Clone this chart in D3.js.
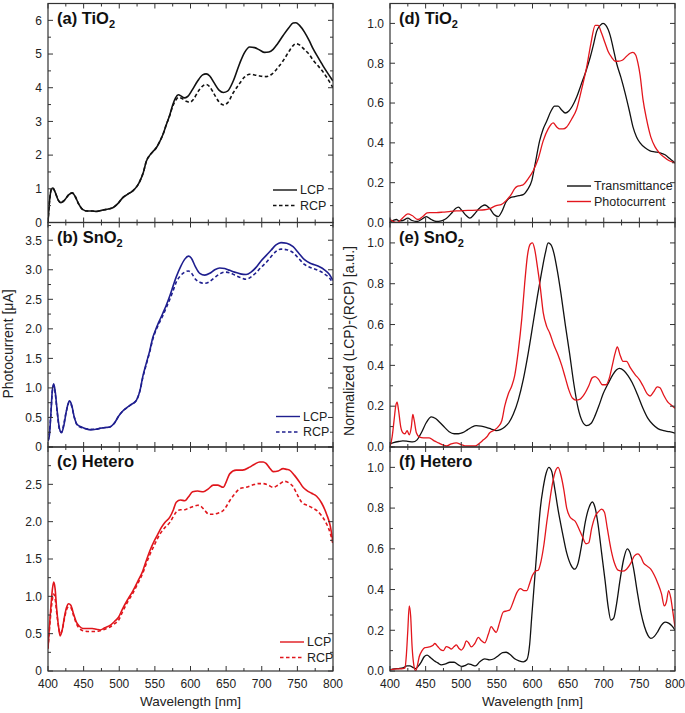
<!DOCTYPE html>
<html><head><meta charset="utf-8">
<script src="https://cdn.jsdelivr.net/npm/d3@7"></script>
<style>
html,body{margin:0;padding:0;background:#fff;}
svg text{font-family:"Liberation Sans",Arial,sans-serif;}
</style></head><body>
<svg id="chart" width="685" height="713"></svg>
<script>
// ---------- DATA (wavelength nm, value) ----------
const aLCP=[[400,0],[402,0.6],[405,1.0],[407,1.02],[410,0.9],[414,0.68],[418,0.59],[423,0.66],[429,0.82],[434,0.88],[438,0.78],[443,0.55],[449,0.38],[455,0.34],[462,0.34],[468,0.33],[475,0.36],[482,0.39],[491,0.44],[498,0.56],[505,0.74],[512,0.84],[519,0.94],[525,1.08],[529,1.23],[534,1.5],[538,1.82],[543,2.0],[547,2.1],[552,2.22],[557,2.41],[562,2.65],[566,2.9],[571,3.2],[575,3.49],[579,3.7],[583,3.79],[587,3.75],[591,3.7],[596,3.74],[602,3.92],[610,4.2],[617,4.38],[622,4.41],[627,4.35],[633,4.15],[640,3.93],[646,3.86],[652,3.9],[660,4.2],[669,4.72],[676,5.05],[683,5.21],[690,5.19],[697,5.12],[704,5.05],[710,5.06],[716,5.14],[722,5.3],[730,5.55],[738,5.78],[744,5.92],[748,5.93],[753,5.85],[760,5.65],[767,5.38],[772,5.16],[779,4.9],[786,4.65],[793,4.42],[800,4.2]];
const aRCP=[[400,0],[402,0.6],[405,1.0],[407,1.02],[410,0.9],[414,0.68],[418,0.59],[423,0.66],[429,0.82],[434,0.88],[438,0.78],[443,0.55],[449,0.38],[455,0.34],[462,0.34],[468,0.33],[475,0.36],[482,0.39],[491,0.44],[498,0.56],[505,0.74],[512,0.84],[519,0.94],[525,1.08],[529,1.23],[534,1.5],[538,1.82],[543,2.0],[547,2.1],[552,2.22],[557,2.41],[562,2.65],[566,2.9],[571,3.18],[575,3.45],[579,3.62],[583,3.71],[588,3.68],[594,3.6],[599,3.57],[604,3.65],[611,3.9],[617,4.05],[622,4.1],[627,4.03],[633,3.82],[640,3.58],[646,3.49],[652,3.55],[660,3.85],[669,4.13],[676,4.32],[683,4.40],[690,4.38],[697,4.35],[706,4.33],[714,4.4],[722,4.58],[730,4.8],[738,5.07],[744,5.25],[748,5.31],[753,5.27],[760,5.13],[767,4.98],[772,4.82],[779,4.65],[786,4.47],[793,4.25],[800,4.0]];
const bLCP=[[400,0.1],[402,0.2],[404,0.55],[406,0.95],[408,1.07],[410,0.95],[413,0.6],[416,0.32],[419,0.24],[422,0.35],[426,0.62],[430,0.78],[433,0.72],[437,0.5],[441,0.38],[447,0.34],[453,0.31],[460,0.29],[467,0.3],[474,0.32],[481,0.33],[487,0.34],[493,0.4],[499,0.52],[505,0.61],[510,0.66],[517,0.72],[524,0.79],[529,0.95],[533,1.19],[538,1.42],[543,1.64],[547,1.85],[550,1.95],[555,2.1],[561,2.26],[566,2.4],[571,2.56],[576,2.74],[580,2.88],[586,3.05],[592,3.18],[597,3.23],[601,3.2],[607,3.05],[613,2.94],[620,2.91],[627,2.94],[634,3.0],[641,3.03],[648,3.02],[655,2.99],[662,2.96],[670,2.93],[678,2.92],[685,2.96],[692,3.04],[699,3.15],[706,3.24],[713,3.33],[720,3.42],[727,3.46],[735,3.45],[744,3.39],[752,3.28],[760,3.17],[768,3.11],[775,3.08],[781,3.05],[788,3.0],[795,2.92],[800,2.82]];
const bRCP=[[400,0.1],[402,0.25],[404,0.55],[406,0.93],[408,1.04],[410,0.92],[413,0.58],[416,0.3],[419,0.25],[422,0.38],[426,0.62],[430,0.76],[433,0.7],[437,0.5],[441,0.37],[447,0.33],[453,0.31],[460,0.3],[467,0.3],[474,0.32],[481,0.33],[487,0.34],[493,0.4],[499,0.52],[505,0.61],[510,0.66],[517,0.72],[524,0.79],[529,0.95],[533,1.17],[538,1.4],[543,1.62],[547,1.82],[550,1.93],[555,2.07],[561,2.22],[566,2.36],[571,2.5],[576,2.66],[580,2.79],[586,2.9],[592,2.96],[597,2.98],[601,2.95],[607,2.84],[613,2.79],[620,2.77],[627,2.8],[634,2.87],[641,2.93],[648,2.96],[655,2.95],[662,2.91],[670,2.87],[678,2.84],[685,2.88],[692,2.95],[699,3.04],[706,3.12],[713,3.22],[720,3.31],[727,3.35],[735,3.34],[744,3.29],[752,3.19],[760,3.09],[768,3.04],[775,3.01],[781,2.98],[788,2.93],[795,2.86],[800,2.77]];
const cLCP=[[400,0.3],[402,0.6],[404,0.85],[406,1.08],[408,1.19],[410,1.1],[412,0.85],[415,0.58],[417,0.47],[420,0.55],[423,0.72],[426,0.85],[429,0.9],[432,0.88],[436,0.76],[440,0.65],[444,0.6],[449,0.57],[456,0.57],[462,0.57],[468,0.56],[473,0.55],[480,0.58],[487,0.61],[493,0.66],[499,0.72],[505,0.84],[512,0.96],[519,1.07],[526,1.2],[533,1.34],[538,1.48],[543,1.61],[549,1.74],[554,1.83],[559,1.92],[564,1.99],[571,2.06],[576,2.16],[580,2.26],[586,2.29],[592,2.28],[597,2.33],[603,2.4],[610,2.41],[618,2.4],[625,2.44],[632,2.49],[638,2.49],[646,2.46],[650,2.53],[655,2.64],[664,2.69],[673,2.69],[683,2.73],[690,2.77],[697,2.80],[702,2.80],[706,2.78],[711,2.72],[716,2.67],[723,2.68],[730,2.71],[735,2.70],[739,2.69],[746,2.62],[753,2.53],[758,2.46],[763,2.42],[770,2.38],[777,2.34],[784,2.25],[791,2.1],[796,1.95],[800,1.72]];
const cRCP=[[400,0.3],[402,0.55],[404,0.78],[406,0.95],[408,1.03],[410,0.97],[412,0.8],[415,0.58],[417,0.5],[420,0.55],[423,0.7],[426,0.82],[429,0.86],[432,0.85],[436,0.74],[440,0.63],[444,0.57],[449,0.54],[456,0.53],[462,0.53],[468,0.53],[473,0.54],[480,0.56],[487,0.59],[493,0.63],[499,0.68],[505,0.8],[512,0.93],[519,1.04],[526,1.17],[533,1.31],[538,1.44],[543,1.56],[549,1.68],[554,1.78],[559,1.86],[564,1.92],[571,1.99],[576,2.07],[580,2.13],[586,2.16],[592,2.16],[597,2.18],[603,2.20],[610,2.22],[614,2.21],[620,2.15],[626,2.10],[632,2.10],[640,2.12],[646,2.15],[650,2.2],[655,2.28],[662,2.37],[669,2.44],[678,2.46],[687,2.49],[695,2.51],[702,2.51],[709,2.49],[716,2.46],[723,2.49],[732,2.54],[738,2.52],[744,2.47],[750,2.36],[756,2.26],[763,2.22],[770,2.19],[777,2.15],[784,2.08],[791,1.97],[796,1.85],[800,1.7]];
const dTrans=[[400,0.005],[404,0.01],[409,0.015],[413,0.008],[418,0.01],[425,0.022],[431,0.01],[438,0.005],[444,0.015],[451,0.03],[458,0.015],[465,0.005],[472,0.008],[479,0.02],[486,0.045],[492,0.07],[496,0.077],[501,0.06],[507,0.035],[512,0.022],[518,0.04],[525,0.07],[533,0.088],[540,0.07],[546,0.04],[552,0.03],[557,0.055],[563,0.105],[569,0.125],[575,0.13],[581,0.135],[587,0.14],[593,0.165],[599,0.21],[604,0.3],[610,0.41],[615,0.47],[620,0.51],[626,0.56],[631,0.585],[636,0.585],[641,0.565],[646,0.55],[651,0.56],[656,0.585],[662,0.63],[668,0.69],[675,0.76],[681,0.83],[686,0.9],[690,0.96],[695,0.99],[699,1.0],[703,0.99],[709,0.94],[713,0.88],[718,0.8],[724,0.73],[730,0.65],[736,0.56],[741,0.48],[746,0.43],[751,0.4],[758,0.375],[765,0.36],[772,0.355],[779,0.35],[786,0.34],[793,0.32],[800,0.3]];
const dPhoto=[[400,0.015],[405,0.005],[410,0.0],[417,0.02],[425,0.043],[431,0.035],[439,0.015],[446,0.03],[452,0.048],[456,0.05],[465,0.05],[474,0.052],[483,0.055],[493,0.058],[503,0.06],[512,0.061],[522,0.062],[533,0.064],[540,0.07],[549,0.085],[556,0.09],[563,0.11],[570,0.14],[575,0.17],[578,0.18],[583,0.185],[587,0.19],[594,0.22],[601,0.26],[608,0.32],[615,0.41],[622,0.47],[629,0.5],[634,0.48],[638,0.47],[643,0.47],[648,0.48],[655,0.52],[662,0.57],[669,0.67],[676,0.78],[682,0.9],[688,0.99],[692,0.99],[697,0.95],[702,0.9],[706,0.86],[711,0.83],[716,0.81],[720,0.81],[726,0.815],[732,0.835],[737,0.85],[741,0.855],[745,0.84],[748,0.8],[751,0.74],[755,0.62],[760,0.52],[766,0.43],[772,0.38],[778,0.35],[784,0.33],[792,0.31],[800,0.3]];
const eTrans=[[400,0.017],[405,0.022],[412,0.027],[418,0.03],[425,0.028],[432,0.025],[438,0.035],[444,0.07],[451,0.12],[458,0.148],[464,0.14],[470,0.12],[477,0.095],[483,0.075],[490,0.065],[496,0.065],[502,0.07],[509,0.085],[515,0.098],[521,0.105],[528,0.102],[535,0.096],[542,0.088],[549,0.08],[555,0.085],[561,0.098],[567,0.12],[573,0.16],[580,0.23],[587,0.33],[594,0.46],[601,0.61],[607,0.74],[613,0.86],[618,0.95],[622,1.0],[626,0.99],[630,0.95],[635,0.86],[640,0.75],[646,0.6],[652,0.46],[658,0.31],[664,0.19],[670,0.125],[676,0.105],[682,0.115],[688,0.155],[694,0.21],[699,0.26],[706,0.31],[713,0.356],[718,0.378],[722,0.385],[728,0.375],[734,0.35],[740,0.315],[747,0.26],[755,0.19],[762,0.14],[769,0.11],[776,0.09],[784,0.08],[792,0.075],[800,0.068]];
const ePhoto=[[400,0.0],[403,0.05],[406,0.14],[408,0.2],[410,0.22],[412,0.18],[415,0.1],[418,0.07],[421,0.065],[424,0.08],[427,0.06],[430,0.1],[432,0.16],[434,0.13],[437,0.07],[441,0.05],[447,0.045],[455,0.045],[462,0.03],[468,0.02],[474,0.01],[479,0.005],[486,0.015],[493,0.02],[500,0.012],[507,0.005],[514,0.005],[520,0.005],[526,0.02],[531,0.035],[536,0.05],[540,0.07],[545,0.08],[552,0.1],[557,0.13],[561,0.2],[566,0.26],[571,0.3],[575,0.35],[580,0.47],[585,0.63],[589,0.8],[593,0.94],[597,0.995],[600,1.0],[603,0.97],[607,0.88],[611,0.78],[615,0.66],[620,0.59],[624,0.56],[630,0.5],[636,0.45],[641,0.4],[646,0.34],[651,0.28],[656,0.24],[661,0.23],[667,0.235],[673,0.26],[679,0.3],[684,0.34],[688,0.345],[693,0.33],[698,0.305],[703,0.305],[708,0.34],[712,0.4],[716,0.46],[719,0.49],[723,0.45],[727,0.42],[732,0.42],[737,0.39],[744,0.355],[750,0.33],[755,0.3],[761,0.26],[765,0.25],[770,0.27],[775,0.295],[779,0.29],[784,0.255],[790,0.22],[795,0.205],[800,0.19]];
const fTrans=[[400,0.005],[406,0.01],[412,0.012],[418,0.015],[424,0.025],[428,0.025],[432,0.018],[436,0.012],[440,0.025],[444,0.045],[448,0.07],[452,0.078],[457,0.065],[462,0.05],[467,0.04],[472,0.03],[478,0.035],[484,0.043],[490,0.043],[496,0.03],[501,0.022],[506,0.028],[510,0.035],[515,0.03],[520,0.025],[526,0.045],[533,0.06],[540,0.055],[546,0.06],[552,0.075],[558,0.09],[563,0.092],[569,0.08],[575,0.06],[581,0.05],[587,0.045],[592,0.055],[596,0.13],[599,0.27],[603,0.45],[607,0.63],[611,0.8],[615,0.9],[619,0.97],[623,1.0],[627,0.98],[631,0.9],[636,0.79],[642,0.68],[648,0.58],[654,0.52],[659,0.5],[664,0.53],[669,0.62],[674,0.73],[679,0.8],[684,0.83],[688,0.8],[692,0.72],[697,0.58],[702,0.44],[706,0.32],[710,0.25],[714,0.26],[718,0.33],[723,0.45],[728,0.55],[733,0.6],[737,0.58],[742,0.5],[747,0.39],[752,0.29],[757,0.22],[762,0.175],[766,0.16],[771,0.17],[776,0.195],[781,0.225],[786,0.24],[791,0.235],[796,0.22],[800,0.2]];
const fPhoto=[[400,0.005],[410,0.01],[418,0.012],[421,0.015],[423,0.08],[425,0.2],[427,0.32],[429,0.27],[431,0.12],[433,0.04],[436,0.0],[438,0.02],[441,0.07],[445,0.1],[449,0.115],[455,0.118],[460,0.125],[463,0.135],[467,0.12],[471,0.105],[475,0.1],[479,0.12],[483,0.115],[486,0.108],[490,0.12],[493,0.128],[497,0.11],[500,0.103],[504,0.12],[507,0.148],[510,0.14],[514,0.118],[519,0.135],[524,0.165],[528,0.15],[533,0.138],[538,0.18],[542,0.218],[546,0.2],[549,0.19],[554,0.24],[559,0.29],[564,0.295],[568,0.3],[573,0.34],[578,0.385],[583,0.405],[588,0.395],[592,0.395],[596,0.43],[600,0.47],[604,0.49],[608,0.495],[612,0.54],[616,0.62],[620,0.73],[624,0.83],[628,0.92],[632,0.98],[636,1.0],[640,0.96],[644,0.89],[648,0.8],[652,0.76],[656,0.745],[660,0.735],[665,0.7],[670,0.66],[675,0.625],[679,0.63],[683,0.7],[688,0.76],[692,0.78],[697,0.795],[701,0.78],[705,0.7],[710,0.6],[715,0.53],[720,0.495],[726,0.49],[732,0.5],[738,0.53],[743,0.565],[748,0.575],[752,0.56],[756,0.53],[761,0.515],[766,0.5],[771,0.47],[776,0.43],[781,0.38],[785,0.32],[788,0.34],[791,0.395],[794,0.36],[797,0.29],[800,0.215]];

const xTicks=[400,450,500,550,600,650,700,750,800];
const panelLabels=[["(a) TiO","2"],["(b) SnO","2"],["(c) Hetero",""],["(d) TiO","2"],["(e) SnO","2"],["(f) Hetero",""]];
const leftYMax=[6.5,3.8,3.0];
const leftYMajor=[1,0.5,0.5];
const leftColors=["#111111","#1f1f8f","#e0161c"];
const leftSeries=[[aLCP,aRCP],[bLCP,bRCP],[cLCP,cRCP]];
const rightSeries=[[dTrans,dPhoto],[eTrans,ePhoto],[fTrans,fPhoto]];
const rightColors=["#111111","#e3161d"];
const legendLeft=["LCP","RCP"];
const legendRight=["Transmittance","Photocurrent"];

// ---------- LAYOUT ----------
const svg=d3.select("#chart");
const rowEdges=[3.5,222.5,447,671];
const cols=[{x0:48,x1:333},{x0:390,x1:675}];
const axisColor="#333";

function drawPanel(ci,ri,series,colors,dashes,ymax,ymajor,labelIdx,yfmt,legend,legendPos,showX){
  const c=cols[ci];
  const top=rowEdges[ri], bot=rowEdges[ri+1];
  const x=d3.scaleLinear().domain([400,800]).range([c.x0,c.x1]);
  const y=d3.scaleLinear().domain([0,ymax]).range([bot,top]);
  const g=svg.append("g");
  const clipId="clip"+ci+ri;
  svg.append("clipPath").attr("id",clipId).append("rect")
    .attr("x",c.x0).attr("y",top).attr("width",c.x1-c.x0).attr("height",bot-top);
  const line=d3.line().x(d=>x(d[0])).y(d=>y(d[1])).curve(d3.curveMonotoneX);
  series.forEach((s,i)=>{
    g.append("path").datum(s).attr("d",line).attr("fill","none")
      .attr("stroke",colors[i]).attr("stroke-width",ci===0?1.6:1.3)
      .attr("stroke-dasharray",dashes[i]).attr("clip-path","url(#"+clipId+")");
  });
  const xMinor=d3.range(400,801,25);
  const yMajorV=d3.range(0,ymax+1e-9,ymajor);
  const yMinorV=d3.range(0,ymax+1e-9,ymajor/2);
  const tg=g.append("g").attr("stroke",axisColor).attr("stroke-width",1);
  xMinor.forEach(v=>{
    const L=(v%50===0)?5:3;
    tg.append("line").attr("x1",x(v)).attr("x2",x(v)).attr("y1",bot).attr("y2",bot-L);
    tg.append("line").attr("x1",x(v)).attr("x2",x(v)).attr("y1",top).attr("y2",top+L);
  });
  yMinorV.forEach(v=>{
    const isMaj=yMajorV.some(m=>Math.abs(m-v)<1e-6);
    const L=isMaj?5:3;
    tg.append("line").attr("x1",c.x0).attr("x2",c.x0+L).attr("y1",y(v)).attr("y2",y(v));
    tg.append("line").attr("x1",c.x1).attr("x2",c.x1-L).attr("y1",y(v)).attr("y2",y(v));
  });
  g.append("rect").attr("x",c.x0).attr("y",top).attr("width",c.x1-c.x0).attr("height",bot-top)
    .attr("fill","none").attr("stroke",axisColor).attr("stroke-width",1.2);
  yMajorV.forEach(v=>{
    if(y(v)<top+4) return;
    g.append("text").attr("x",c.x0-6).attr("y",y(v)+4.3).attr("text-anchor","end")
      .attr("font-size",12).attr("fill","#222").text(yfmt(v));
  });
  if(showX){
    xTicks.forEach(v=>{
      g.append("text").attr("x",x(v)).attr("y",bot+17).attr("text-anchor","middle")
        .attr("font-size",12).attr("fill","#222").text(v);
    });
  }
  const pl=panelLabels[labelIdx];
  const t=g.append("text").attr("x",c.x0+9).attr("y",top+20).attr("font-size",16.5)
    .attr("font-weight","bold").attr("fill","#111");
  t.append("tspan").text(pl[0]);
  if(pl[1]) t.append("tspan").attr("font-size",11).attr("dy",4).text(pl[1]);
  if(legend){
    legend.forEach((name,i)=>{
      const ly=legendPos.y+i*15.5;
      g.append("line").attr("x1",legendPos.x).attr("x2",legendPos.x+legendPos.len)
        .attr("y1",ly).attr("y2",ly).attr("stroke",colors[i]).attr("stroke-width",1.4)
        .attr("stroke-dasharray",dashes[i]);
      g.append("text").attr("x",legendPos.x+legendPos.len+3).attr("y",ly+4.3)
        .attr("font-size",12.5).attr("fill","#222").text(name);
    });
  }
}

const fmtLeft=[v=>d3.format("d")(v), v=>v===0?"0":d3.format(".1f")(v), v=>v===0?"0":d3.format(".1f")(v)];
const legPosL=[{x:273,y:190,len:24},{x:276,y:416.5,len:24},{x:280,y:642,len:24}];
for(let r=0;r<3;r++){
  const col=leftColors[r];
  drawPanel(0,r,leftSeries[r],[col,col],[null,"3.5,2.5"],leftYMax[r],leftYMajor[r],r,fmtLeft[r],legendLeft,legPosL[r],r===2);
  drawPanel(1,r,rightSeries[r],rightColors,[null,null],1.1,0.2,r+3,d3.format(".1f"),r===0?legendRight:null,{x:567,y:186,len:24},r===2);
}

svg.append("text").attr("transform","translate(13,344) rotate(-90)").attr("text-anchor","middle")
  .attr("font-size",14).attr("fill","#222").text("Photocurrent [μA]");
svg.append("text").attr("transform","translate(354,341) rotate(-90)").attr("text-anchor","middle")
  .attr("font-size",14).attr("fill","#222").text("Normalized (LCP)-(RCP) [a.u.]");
svg.append("text").attr("x",190.5).attr("y",706).attr("text-anchor","middle")
  .attr("font-size",13.5).attr("fill","#222").text("Wavelength [nm]");
svg.append("text").attr("x",532.5).attr("y",706).attr("text-anchor","middle")
  .attr("font-size",13.5).attr("fill","#222").text("Wavelength [nm]");
</script>
</body></html>
